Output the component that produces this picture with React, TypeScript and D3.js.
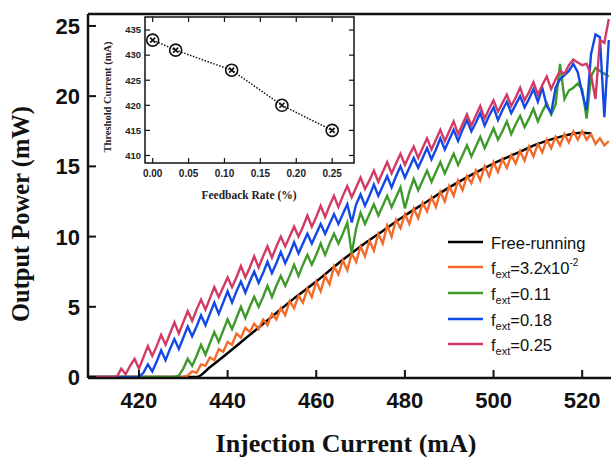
import * as d3 from "d3";

// injection current grid (mA), one sample per mA
const current = d3.range(408, 527);

const blackCurrent = [408, 433, 436, 440, 445, 450, 455, 460, 465, 470, 475, 480, 485, 490, 495, 500, 505, 510, 515, 520, 522];
const blackPower = [0, 0, 0.7, 1.7, 3.0, 4.3, 5.6, 6.8, 8.1, 9.3, 10.4, 11.5, 12.5, 13.5, 14.4, 15.2, 15.9, 16.6, 17.1, 17.4, 17.35];

const orangePower = [
  0, 0, 0, 0, 0, 0, 0, 0, 0, 0, 0, 0, 0, 0, 0, 0, 0, 0, 0, 0, 0, 0, 0,
  0.1, 0.4, 0.3, 0.9, 0.8, 1.4, 1.2, 2.0, 1.8, 2.5,
  2.3, 3.1, 2.8, 3.5, 3.2, 3.8, 3.4, 4.1, 3.7, 4.5,
  4.1, 4.9, 4.4, 5.4, 4.9, 5.8, 5.3, 6.3, 5.7, 6.8,
  6.1, 7.2, 6.6, 7.9, 7.3, 8.3, 7.6, 8.8, 8.2, 9.3,
  8.6, 9.7, 9.0, 10.2, 9.5, 10.8, 10.0, 11.2, 10.6, 11.6,
  10.9, 12.0, 11.3, 12.4, 11.8, 12.8, 12.1, 13.2, 12.5, 13.6,
  12.9, 14.0, 13.3, 14.3, 13.8, 14.7, 14.0, 15.0, 14.3, 15.3,
  14.6, 15.5, 14.9, 15.8, 15.2, 16.1, 15.4, 16.4, 15.7, 16.6,
  16.0, 16.9, 16.3, 17.1, 16.5, 17.3, 16.7, 17.5, 16.9, 17.5,
  16.9, 17.3, 16.6, 17.0, 16.5, 16.8,
];

const greenPower = [
  0, 0, 0, 0, 0, 0, 0, 0, 0, 0, 0, 0, 0, 0, 0, 0, 0, 0, 0, 0,
  0.0, 0.1, 0.6, 1.3, 0.8, 1.5, 2.3, 1.6, 2.4, 3.2,
  2.5, 3.3, 4.1, 3.4, 4.2, 5.0, 4.2, 5.0, 5.7, 5.0,
  5.7, 6.5, 5.7, 6.5, 7.2, 6.5, 7.2, 8.0, 7.2, 8.0,
  8.7, 8.0, 8.7, 9.5, 8.7, 9.5, 10.2, 9.5, 10.2, 11.0,
  8.8, 10.6, 11.7, 10.9, 11.6, 12.3, 11.5, 12.2, 12.9, 12.1,
  12.8, 13.5, 12.0, 13.2, 14.1, 13.3, 14.0, 14.7, 13.9, 14.6,
  15.3, 14.5, 15.2, 15.9, 15.1, 15.8, 16.5, 15.7, 16.4, 17.1,
  16.3, 17.0, 17.7, 16.9, 17.5, 18.2, 17.3, 18.0, 18.6, 17.8,
  18.4, 19.1, 18.2, 18.9, 19.5, 18.7, 19.4, 22.3, 19.8, 20.4,
  20.6, 20.9, 20.5, 18.4, 21.4, 22.0, 21.8, 21.6, 21.4,
];

const bluePower = [
  0, 0, 0, 0, 0, 0, 0, 0, 0, 0, 0, 0,
  0.0, 0.3, 0.9, 0.4, 1.1, 1.9, 1.2, 2.0, 2.7, 2.0,
  2.8, 3.6, 2.9, 3.6, 4.4, 3.7, 4.5, 5.3, 4.5, 5.3,
  6.1, 5.3, 6.1, 6.8, 6.0, 6.8, 7.5, 6.7, 7.4, 8.2,
  7.4, 8.1, 8.9, 8.1, 8.8, 9.6, 8.8, 9.5, 10.2, 9.5,
  10.2, 10.9, 10.2, 10.9, 11.6, 10.9, 11.6, 12.3, 11.0, 12.3,
  13.0, 12.2, 12.9, 13.7, 12.9, 13.6, 14.3, 13.5, 14.3, 15.0,
  14.2, 14.9, 15.6, 14.9, 15.6, 16.3, 15.5, 16.2, 17.0, 16.2,
  16.9, 17.6, 16.8, 17.6, 18.3, 17.5, 18.1, 18.8, 17.9, 18.6,
  19.2, 18.3, 19.0, 19.6, 18.8, 19.4, 20.0, 19.2, 19.8, 20.5,
  19.6, 20.6, 19.3, 18.8, 20.6, 21.2, 21.5, 21.8, 22.3, 21.7,
  20.2, 19.0, 23.0, 24.4, 24.2, 18.5, 24.0,
];

const redPower = [
  0, 0, 0, 0, 0, 0, 0, 0,
  0.6, 0.2, 0.8, 1.3, 0.6, 1.4, 2.2, 1.5, 2.2, 3.0,
  2.3, 3.1, 3.9, 3.1, 3.9, 4.7, 4.0, 4.8, 5.5, 4.8,
  5.6, 6.4, 5.7, 6.4, 7.1, 6.4, 7.1, 7.9, 7.1, 7.8,
  8.6, 7.8, 8.6, 9.3, 8.5, 9.3, 10.0, 9.3, 10.0, 10.7,
  10.0, 10.7, 11.5, 10.7, 11.4, 12.2, 11.4, 12.2, 12.9, 12.1,
  12.9, 13.6, 12.8, 13.5, 14.2, 13.4, 14.0, 14.7, 13.9, 14.6,
  15.3, 14.5, 15.2, 15.9, 15.1, 15.8, 16.4, 15.6, 16.3, 17.0,
  16.2, 16.9, 17.6, 16.8, 17.5, 18.2, 17.3, 18.0, 18.7, 17.9,
  18.6, 19.3, 18.4, 19.1, 19.7, 18.9, 19.5, 20.1, 19.3, 19.9,
  20.6, 19.7, 20.3, 21.0, 20.1, 20.8, 21.4, 20.5, 21.2, 21.8,
  21.6, 22.2, 22.6, 22.4, 22.2, 22.3, 21.5, 19.8, 24.0, 23.8,
  25.5,
];

const xTicks = [420, 440, 460, 480, 500, 520];
const yTicks = [0, 5, 10, 15, 20, 25];

// inset: threshold current vs feedback rate
const feedbackRate = [0, 0.032, 0.11, 0.18, 0.25];
const thresholdCurrent = [433, 431, 427, 420, 415];
const insetXTicks = [0, 0.05, 0.1, 0.15, 0.2, 0.25];
const insetYTicks = [410, 415, 420, 425, 430, 435];

const colors = ["#000000", "#f26b2a", "#3f9a2b", "#1249e6", "#d23a64"];

const W = 611;
const H = 457;
const left = 88;
const top = 14;
const bottom = 378;

const sans = "'Liberation Sans', Arial, Helvetica, sans-serif";
const serif = "'Liberation Serif', 'Times New Roman', serif";

function Legend() {
  const rowY = [242, 267, 293, 319, 344];
  const labels = [
    <tspan>Free-running</tspan>,
    <>
      <tspan>f</tspan>
      <tspan fontSize={11} dy={4}>ext</tspan>
      <tspan dy={-4}>=3.2x10</tspan>
      <tspan fontSize={10} dy={-8}>-2</tspan>
    </>,
    <>
      <tspan>f</tspan>
      <tspan fontSize={11} dy={4}>ext</tspan>
      <tspan dy={-4}>=0.11</tspan>
    </>,
    <>
      <tspan>f</tspan>
      <tspan fontSize={11} dy={4}>ext</tspan>
      <tspan dy={-4}>=0.18</tspan>
    </>,
    <>
      <tspan>f</tspan>
      <tspan fontSize={11} dy={4}>ext</tspan>
      <tspan dy={-4}>=0.25</tspan>
    </>,
  ];
  return (
    <g>
      {rowY.map((ry, i) => (
        <g key={i}>
          <line x1={448} x2={483} y1={ry} y2={ry} stroke={colors[i]} strokeWidth={2.5} />
          <text x={491} y={ry + 6.5} fontSize={16.5} fontFamily={sans} fill="#111">
            {labels[i]}
          </text>
        </g>
      ))}
    </g>
  );
}

function Inset() {
  const ix = d3.scaleLinear().domain([-0.0107, 0.2804]).range([145, 354]);
  const iy = d3.scaleLinear().domain([408.5, 437.6]).range([163, 17]);
  const [x0, x1] = ix.range();
  const [y0, y1] = iy.range();
  const pts = feedbackRate.map((f, i) => [ix(f), iy(thresholdCurrent[i])]);
  const path = d3.line()(pts as [number, number][]);
  return (
    <g>
      <rect x={x0} y={y1} width={x1 - x0} height={y0 - y1} fill="#fff" stroke="#111" strokeWidth={1.5} />
      {insetXTicks.map((t) => (
        <g key={t}>
          <line x1={ix(t)} x2={ix(t)} y1={y0} y2={y0 - 5} stroke="#111" strokeWidth={1.2} />
          <line x1={ix(t)} x2={ix(t)} y1={y1} y2={y1 + 5} stroke="#111" strokeWidth={1.2} />
          <text x={ix(t)} y={177} textAnchor="middle" fontSize={10} fontWeight="bold" fontFamily={sans} fill="#222">
            {d3.format(".2f")(t)}
          </text>
        </g>
      ))}
      {insetYTicks.map((t) => (
        <g key={t}>
          <line x1={x0} x2={x0 + 5} y1={iy(t)} y2={iy(t)} stroke="#111" strokeWidth={1.2} />
          <line x1={x1} x2={x1 - 5} y1={iy(t)} y2={iy(t)} stroke="#111" strokeWidth={1.2} />
          <text x={141} y={iy(t)} dy="0.35em" textAnchor="end" fontSize={9.5} fontWeight="bold" fontFamily={sans} fill="#222">
            {t}
          </text>
        </g>
      ))}
      <path d={path || ""} fill="none" stroke="#111" strokeWidth={1.5} strokeDasharray="1.5,1.6" />
      {pts.map(([px, py], i) => (
        <g key={i} stroke="#111" fill="none">
          <circle cx={px} cy={py} r={6} strokeWidth={1.6} />
          <line x1={px - 2.5} x2={px + 2.5} y1={py - 2.5} y2={py + 2.5} strokeWidth={1.6} />
          <line x1={px - 2.5} x2={px + 2.5} y1={py + 2.5} y2={py - 2.5} strokeWidth={1.6} />
        </g>
      ))}
      <text x={249} y={199} textAnchor="middle" fontSize={11.5} fontWeight="bold" fontFamily={serif} fill="#222">
        Feedback Rate (%)
      </text>
      <text
        transform={`translate(111,97) rotate(-90)`}
        textAnchor="middle"
        fontSize={10.5}
        fontWeight="bold"
        fontFamily={serif}
        fill="#222"
      >
        Threshold Current (mA)
      </text>
    </g>
  );
}

export default function App() {
  const x = d3.scaleLinear().domain([408.5, 526.5]).range([left, W]);
  const y = d3.scaleLinear().domain([-0.07, 25.85]).range([bottom, top]);

  const line = d3
    .line<number>()
    .x((_, i) => x(current[i]))
    .y((d) => y(d));

  const blackLine = d3
    .line<number>()
    .x((_, i) => x(blackCurrent[i]))
    .y((d) => y(d))
    .curve(d3.curveMonotoneX);

  const series = [orangePower, greenPower, bluePower, redPower];

  return (
    <div style={{ position: "absolute", left: 0, top: 0 }}>
      <svg width={W} height={H} style={{ display: "block", background: "#fff" }}>
        <defs>
          <clipPath id="plot-clip">
            <rect x={left} y={0} width={W - left} height={bottom - 0} />
          </clipPath>
        </defs>

        <g clipPath="url(#plot-clip)">
          <path d={blackLine(blackPower) || ""} fill="none" stroke={colors[0]} strokeWidth={2.5} />
          {series.map((s, i) => (
            <path
              key={i}
              d={line(s) || ""}
              fill="none"
              stroke={colors[i + 1]}
              strokeWidth={2.4}
              strokeLinejoin="miter"
            />
          ))}
        </g>

        {/* axes frame */}
        <line x1={left} x2={W} y1={bottom} y2={bottom} stroke="#111" strokeWidth={2.5} />
        <line x1={left} x2={W} y1={top} y2={top} stroke="#111" strokeWidth={2.5} />
        <line x1={left} x2={left} y1={top} y2={bottom} stroke="#111" strokeWidth={2.5} />

        {xTicks.map((t) => (
          <g key={t}>
            <line x1={x(t)} x2={x(t)} y1={bottom} y2={bottom - 8} stroke="#111" strokeWidth={2} />
            <text x={x(t)} y={408} textAnchor="middle" fontSize={22} fontWeight="bold" fontFamily={sans} fill="#111">
              {t}
            </text>
          </g>
        ))}
        {yTicks.map((t) => (
          <g key={t}>
            <line x1={left} x2={left + 8} y1={y(t)} y2={y(t)} stroke="#111" strokeWidth={2} />
            <text x={80} y={y(t)} dy="0.36em" textAnchor="end" fontSize={22} fontWeight="bold" fontFamily={sans} fill="#111">
              {t}
            </text>
          </g>
        ))}

        <text x={346} y={452} textAnchor="middle" fontSize={26} fontWeight="bold" fontFamily={serif} fill="#111">
          Injection Current (mA)
        </text>
        <text
          transform="translate(29,214) rotate(-90)"
          textAnchor="middle"
          fontSize={24.5}
          fontWeight="bold"
          fontFamily={serif}
          fill="#111"
        >
          Output Power (mW)
        </text>

        <Inset />
        <Legend />
      </svg>
    </div>
  );
}
